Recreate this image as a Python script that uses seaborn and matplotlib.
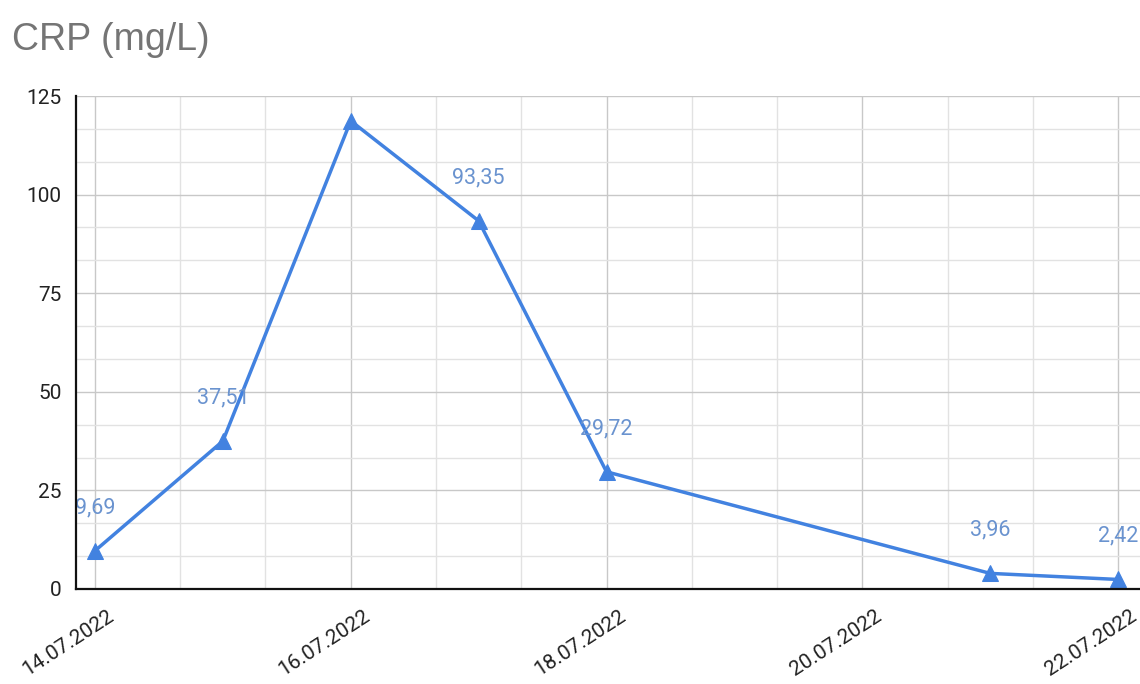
import numpy as np
import pandas as pd
import seaborn as sns
import matplotlib.pyplot as plt
import matplotlib.dates as mdates
import matplotlib.transforms as mtransforms
from matplotlib.ticker import MultipleLocator, FixedLocator

dates = ['2022-07-14', '2022-07-15', '2022-07-16', '2022-07-17',
         '2022-07-18', '2022-07-21', '2022-07-22']
crp = [9.69, 37.51, 118.7, 93.35, 29.72, 3.96, 2.42]
show_label = [True, True, False, True, True, True, True]

line_color = '#4282e0'
label_color = '#6a93cf'

sns.set_theme(style='white')
plt.rcParams['font.family'] = ['Roboto', 'DejaVu Sans']

df = pd.DataFrame({'date': pd.to_datetime(dates), 'crp': crp})

fig = plt.figure(figsize=(11.4, 6.84), dpi=100)
ax = fig.add_axes([76 / 1140, 1 - 589 / 684, 1 - 76 / 1140, (589 - 96) / 684])

sns.lineplot(data=df, x='date', y='crp', ax=ax, color=line_color,
             linewidth=2.5, marker='^', markersize=11,
             markeredgecolor=line_color, zorder=3)

for d, v, show in zip(df['date'], df['crp'], show_label):
    if show:
        ax.annotate(f'{v:.2f}'.replace('.', ','), (d, v), xytext=(0, 31),
                    textcoords='offset points', ha='center', va='center',
                    color=label_color, fontsize=15.5, zorder=4)

x0 = mdates.date2num(pd.Timestamp('2022-07-14'))
ax.set_xlim(x0 - 19 / 128, x0 + 8 + 22 / 128)
ax.set_ylim(0, 125)

ax.xaxis.set_major_locator(mdates.DayLocator(bymonthday=[14, 16, 18, 20, 22]))
ax.xaxis.set_major_formatter(mdates.DateFormatter('%d.%m.%Y'))
ax.xaxis.set_minor_locator(FixedLocator(x0 + np.arange(13) * 2 / 3))
ax.yaxis.set_major_locator(MultipleLocator(25))
ax.yaxis.set_minor_locator(MultipleLocator(25 / 3))

ax.grid(which='major', color='#c8c8c8', linewidth=1)
ax.grid(which='minor', color='#e2e2e2', linewidth=1)
ax.set_axisbelow(True)

for s in ['top', 'right']:
    ax.spines[s].set_visible(False)
for s in ['left', 'bottom']:
    ax.spines[s].set_color('#111111')
    ax.spines[s].set_linewidth(1.6)
    ax.spines[s].set_zorder(5)

ax.tick_params(which='major', direction='inout', length=17, width=1.5,
               color='#111111', labelsize=15, labelcolor='#222222')
ax.tick_params(which='minor', direction='inout', length=8, width=1.5,
               color='#111111')
ax.tick_params(axis='y', which='major', pad=2)
ax.tick_params(axis='x', which='major', pad=4)
shift = mtransforms.ScaledTranslation(12 / 100, 0, fig.dpi_scale_trans)
for lbl in ax.get_xticklabels():
    lbl.set_rotation(33)
    lbl.set_ha('right')
    lbl.set_rotation_mode('anchor')
    lbl.set_transform(lbl.get_transform() + shift)

ax.set_xlabel('')
ax.set_ylabel('')

fig.text(12 / 1140, 1 - 40 / 684, 'CRP (mg/L)', fontsize=27, color='#757575',
         family=['Liberation Sans', 'DejaVu Sans'], ha='left', va='center')

fig.savefig('out.png', dpi=100)
